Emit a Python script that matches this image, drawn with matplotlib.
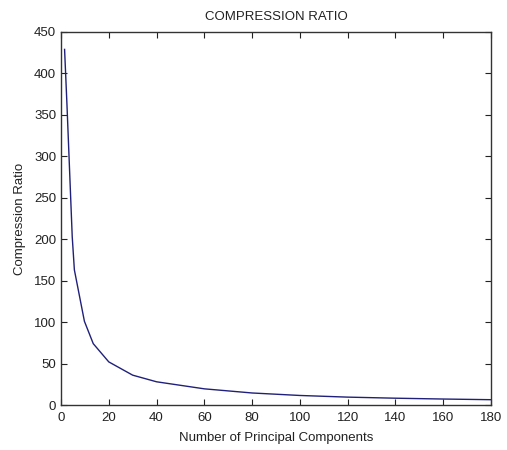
import matplotlib
matplotlib.use("Agg")
import matplotlib.pyplot as plt

components = [1.5, 2.5, 4.7, 5.6, 9.8, 13.5, 20, 30, 40, 60, 80, 100, 120, 140, 160, 180]
ratio = [429, 362, 203, 163, 101, 74, 52, 36, 28, 19.5, 14.5, 11.5, 9.5, 8.2, 7.2, 6.4]
xticks = list(range(0, 181, 20))
yticks = list(range(0, 451, 50))

plt.rcParams['font.family'] = ['Liberation Sans', 'DejaVu Sans']
fig = plt.figure(figsize=(5.07, 4.5), dpi=100)
ax = fig.add_axes([61/507, 1-405/450, (491-61)/507, (405-32)/450])
ax.plot(components, ratio, color='#20207a', linewidth=1.0)
ax.set_xlim(0, 180)
ax.set_ylim(0, 450)
ax.set_xticks(xticks)
ax.set_yticks(yticks)
ax.tick_params(direction='in', top=True, right=True, length=4, labelsize=9.5, colors='#222222')
ax.tick_params(axis='x', pad=5)
for s in ax.spines.values():
    s.set_color('#333333')
    s.set_linewidth(1.0)
ax.set_title('COMPRESSION RATIO', fontsize=9.5, pad=9, color='#222222')
ax.set_xlabel('Number of Principal Components', fontsize=9.5, labelpad=6, color='#222222')
ax.set_ylabel('Compression Ratio', fontsize=9.5, labelpad=6, color='#222222')
fig.savefig('out.png', dpi=100)
